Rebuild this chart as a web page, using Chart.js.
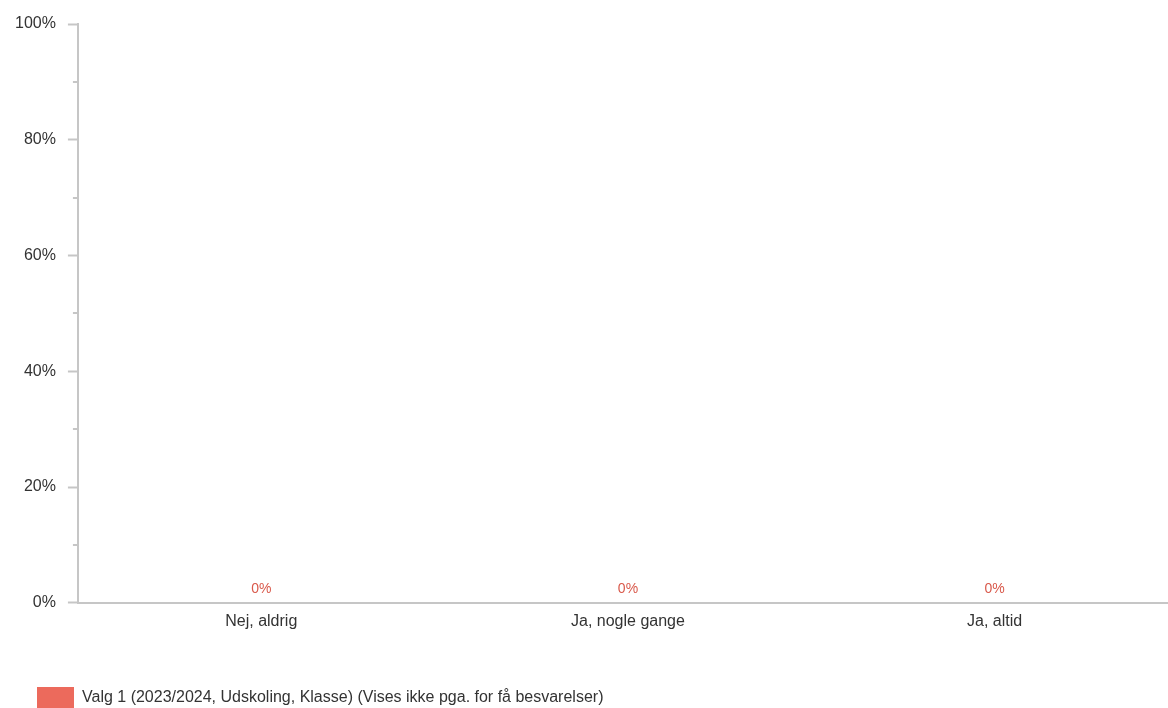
<!DOCTYPE html>
<html>
<head>
<meta charset="utf-8">
<script src="https://cdn.jsdelivr.net/npm/chart.js@4"></script>
<style>
  html, body { margin: 0; padding: 0; background: #fff; overflow: hidden; }
  #wrap { width: 1178px; height: 708px; }
</style>
</head>
<body>
<div id="wrap"><canvas id="chart"></canvas></div>
<script>
"use strict";

const categories = ["Nej, aldrig", "Ja, nogle gange", "Ja, altid"];
const seriesLabel = "Valg 1 (2023/2024, Udskoling, Klasse) (Vises ikke pga. for få besvarelser)";
const seriesValues = [0, 0, 0];
const yTickValues = [0, 20, 40, 60, 80, 100];

const AXIS_GREY = "#c6c6c6";
const TEXT = "#333333";
const BAR = "#ec6a5c";
const LABEL_RED = "#d9594b";
const FONT = "'Liberation Sans', Arial, sans-serif";

// "0%" labels over each bar + short minor ticks on the y axis
const extras = {
    id: "extras",
    afterDatasetsDraw(chart) {
        const ctx = chart.ctx;
        const meta = chart.getDatasetMeta(0);
        ctx.save();
        ctx.font = "14px " + FONT;
        ctx.fillStyle = LABEL_RED;
        ctx.textAlign = "center";
        ctx.textBaseline = "bottom";
        meta.data.forEach((bar, i) => {
            ctx.fillText(seriesValues[i] + "%", bar.x, bar.y - 7);
        });
        ctx.restore();
    },
    afterDraw(chart) {
        const y = chart.scales.y;
        const ctx = chart.ctx;
        ctx.save();
        ctx.strokeStyle = AXIS_GREY;
        ctx.lineWidth = 2;
        for (let v = 10; v < 100; v += 20) {
            const py = Math.round(y.getPixelForValue(v));
            ctx.beginPath();
            ctx.moveTo(y.right - 5, py);
            ctx.lineTo(y.right, py);
            ctx.stroke();
        }
        ctx.restore();
    }
};

new Chart(document.getElementById("chart"), {
    type: "bar",
    data: {
        labels: categories,
        datasets: [{
            label: seriesLabel,
            data: seriesValues,
            backgroundColor: BAR,
            borderWidth: 0
        }]
    },
    options: {
        responsive: true,
        maintainAspectRatio: false,
        animation: false,
        layout: { padding: { top: 24, left: 3, right: 0, bottom: -11 } },
        plugins: {
            legend: {
                position: "bottom",
                align: "start",
                // empty title only used as extra space above the legend row
                title: {
                    display: true,
                    text: "",
                    font: { size: 10, lineHeight: 1 },
                    padding: { top: 3, bottom: 0 }
                },
                labels: {
                    boxWidth: 37,
                    boxHeight: 22,
                    padding: 34,
                    color: TEXT,
                    font: { family: FONT, size: 16 }
                }
            },
            tooltip: { enabled: false }
        },
        scales: {
            x: {
                grid: { display: false, drawTicks: false },
                border: { display: true, color: AXIS_GREY, width: 2 },
                ticks: {
                    padding: 9,
                    color: TEXT,
                    font: { family: FONT, size: 16 }
                }
            },
            y: {
                min: 0,
                max: 100,
                afterBuildTicks(scale) {
                    scale.ticks = yTickValues.map(v => ({ value: v }));
                },
                grid: {
                    drawOnChartArea: false,
                    drawTicks: true,
                    tickLength: 10,
                    tickWidth: 2,
                    color: AXIS_GREY
                },
                border: { display: true, color: AXIS_GREY, width: 2 },
                ticks: {
                    padding: 12,
                    color: TEXT,
                    font: { family: FONT, size: 16 },
                    callback: v => v + "%"
                }
            }
        }
    },
    plugins: [extras]
});
</script>
</body>
</html>
